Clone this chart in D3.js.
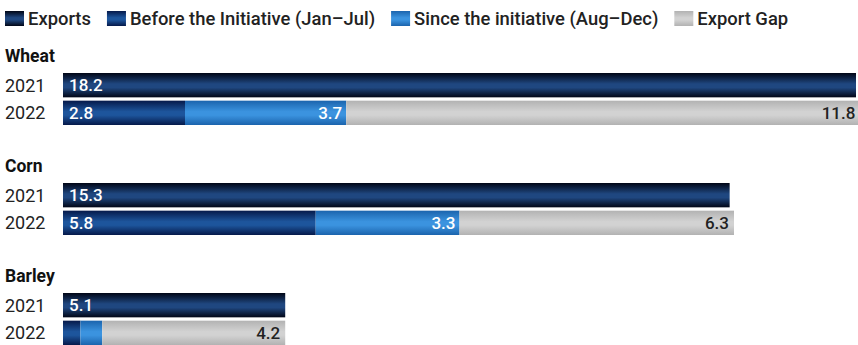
<!DOCTYPE html>
<html><head><meta charset="utf-8">
<script src="https://cdn.jsdelivr.net/npm/d3@7"></script>
<style>
html,body{margin:0;padding:0;background:#fff;}
text{font-family:Roboto,"Noto Sans",sans-serif;}
</style></head>
<body>
<svg id="chart" width="858" height="345"></svg>
<script>
const crops = ["Wheat", "Corn", "Barley"];
const years = ["2021", "2022"];
const exports2021 = [18.2, 15.3, 5.1];
const beforeInit = [2.8, 5.8, 0.4];
const sinceInit = [3.7, 3.3, 0.5];
const exportGap = [11.8, 6.3, 4.2];
const legendLabels = ["Exports", "Before the Initiative (Jan\u2013Jul)", "Since the initiative (Aug\u2013Dec)", "Export Gap"];

const svg = d3.select("#chart");
const defs = svg.append("defs");
function grad(id, edge, mid) {
  const g = defs.append("linearGradient").attr("id", id).attr("x1", 0).attr("y1", 0).attr("x2", 0).attr("y2", 1);
  g.append("stop").attr("offset", "0%").attr("stop-color", edge);
  g.append("stop").attr("offset", "45%").attr("stop-color", mid);
  g.append("stop").attr("offset", "60%").attr("stop-color", mid);
  g.append("stop").attr("offset", "100%").attr("stop-color", edge);
}
grad("gExp", "#010616", "#1f4780");
grad("gBef", "#05194a", "#1d559c");
grad("gSin", "#1b64ad", "#3b93df");
grad("gGap", "#b2b2b2", "#d2d2d2");
const fills = ["url(#gExp)", "url(#gBef)", "url(#gSin)", "url(#gGap)"];

const x = d3.scaleLinear().domain([0, 18.2]).range([63, 856]);
const gy = d3.scaleBand().domain(crops).range([73, 403]).paddingInner(0).paddingOuter(0);
const yy = d3.scaleBand().domain(years).range([0, 52]).paddingInner(0.12);

// legend
const leg = svg.append("g");
let lx = 5;
legendLabels.forEach((l, i) => {
  leg.append("rect").attr("x", lx).attr("y", 11).attr("width", 19).attr("height", 15).attr("fill", fills[i]);
  const t = leg.append("text").attr("x", lx + 23).attr("y", 24.5).attr("font-size", 18.4).attr("font-weight", 500).attr("fill", "#222").text(l);
  lx += 23 + t.node().getComputedTextLength() + 16;
});

crops.forEach((c, ci) => {
  const g = svg.append("g").attr("transform", `translate(0,${gy(c)})`);
  g.append("text").attr("x", 5).attr("y", -11).attr("font-size", 17.5).attr("font-weight", "bold").attr("fill", "#111").text(c);
  years.forEach(yr => {
    g.append("text").attr("x", 5).attr("y", yy(yr) + yy.bandwidth() / 2 + 6.5).attr("font-size", 18).attr("fill", "#222").text(yr);
  });
  const h = yy.bandwidth();
  // 2021
  const y1 = yy("2021");
  g.append("rect").attr("x", x(0)).attr("y", y1).attr("width", x(exports2021[ci]) - x(0)).attr("height", h).attr("fill", fills[0]);
  g.append("text").attr("x", x(0) + 6).attr("y", y1 + h / 2 + 6).attr("font-size", 17).attr("font-weight", 500).attr("fill", "#fff").text(exports2021[ci].toFixed(1));
  // 2022 stacked
  const y2 = yy("2022");
  const segs = [beforeInit[ci], sinceInit[ci], exportGap[ci]];
  let acc = 0;
  segs.forEach((v, si) => {
    const x0 = x(acc), x1 = x(acc + v);
    g.append("rect").attr("x", x0).attr("y", y2).attr("width", x1 - x0).attr("height", h).attr("fill", fills[si + 1]);
    acc += v;
  });
  if (ci < 2) {
    g.append("text").attr("x", x(0) + 6).attr("y", y2 + h / 2 + 6).attr("font-size", 17).attr("font-weight", 500).attr("fill", "#fff").text(beforeInit[ci].toFixed(1));
    g.append("text").attr("x", x(beforeInit[ci] + sinceInit[ci]) - 4).attr("y", y2 + h / 2 + 6).attr("text-anchor", "end").attr("font-size", 17).attr("font-weight", 500).attr("fill", "#fff").text(sinceInit[ci].toFixed(1));
  }
  g.append("text").attr("x", x(acc) - 5).attr("y", y2 + h / 2 + 6).attr("text-anchor", "end").attr("font-size", 17).attr("font-weight", 500).attr("fill", "#222").text(exportGap[ci].toFixed(1));
});
</script>
</body></html>
